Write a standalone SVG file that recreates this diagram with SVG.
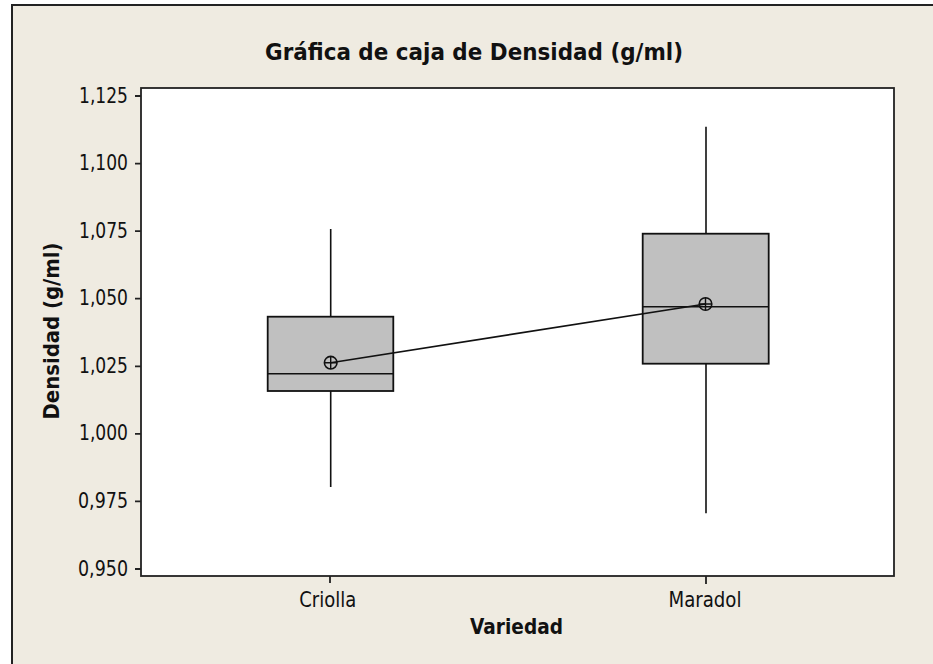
<svg xmlns="http://www.w3.org/2000/svg" width="933" height="664" viewBox="0 0 933 664">
<style>
.lbl{font-family:"DejaVu Sans","Liberation Sans",sans-serif;font-size:20.5px;fill:#111}
.b{font-weight:bold}
.ax{stroke:#222;stroke-width:1.8;fill:none}
.pl{fill:#fff;stroke:#222;stroke-width:1.8}
.box{fill:#c0c0c0;stroke:#111;stroke-width:1.8}
.ln{stroke:#111;stroke-width:1.6;fill:none}
</style>
<defs>
<g id="mean"><circle r="6.3" fill="none" stroke="#111" stroke-width="1.6"/><path d="M-6.3 0H6.3M0 -6.3V6.3" stroke="#111" stroke-width="1.4"/></g>
</defs>
<rect width="933" height="664" fill="#fff"/>
<rect id="frame" x="12" y="5" width="930" height="670" fill="#efebe1" stroke="#222" stroke-width="2"/>
<text id="title" class="lbl b" x="474" y="60" text-anchor="middle" textLength="418" lengthAdjust="spacingAndGlyphs" style="font-size:23px">Gráfica de caja de Densidad (g/ml)</text>
<rect id="plot" class="pl" x="141" y="88" width="753" height="488"/>
<g id="yaxis">
<path class="ax" d="M135 96H141M135 163.6H141M135 231.1H141M135 298.7H141M135 366.3H141M135 433.9H141M135 501.4H141M135 569H141"/>
<g class="lbl" text-anchor="end">
<text x="128" y="102.5" textLength="49" lengthAdjust="spacingAndGlyphs">1,125</text>
<text x="128" y="170.1" textLength="49" lengthAdjust="spacingAndGlyphs">1,100</text>
<text x="128" y="237.6" textLength="49" lengthAdjust="spacingAndGlyphs">1,075</text>
<text x="128" y="305.2" textLength="49" lengthAdjust="spacingAndGlyphs">1,050</text>
<text x="128" y="372.8" textLength="49" lengthAdjust="spacingAndGlyphs">1,025</text>
<text x="128" y="440.4" textLength="49" lengthAdjust="spacingAndGlyphs">1,000</text>
<text x="128" y="507.9" textLength="50" lengthAdjust="spacingAndGlyphs">0,975</text>
<text x="128" y="575.5" textLength="50" lengthAdjust="spacingAndGlyphs">0,950</text>
</g>
<text class="lbl b" transform="translate(58.5 331) rotate(-90)" text-anchor="middle" textLength="177" lengthAdjust="spacingAndGlyphs">Densidad (g/ml)</text>
</g>
<g id="xaxis">
<path class="ax" d="M330 576V583M706 576V584"/>
<text class="lbl" x="327.7" y="606.7" text-anchor="middle" textLength="57" lengthAdjust="spacingAndGlyphs">Criolla</text>
<text class="lbl" x="705" y="606.7" text-anchor="middle" textLength="73" lengthAdjust="spacingAndGlyphs">Maradol</text>
<text class="lbl b" x="516.5" y="634" text-anchor="middle" textLength="93" lengthAdjust="spacingAndGlyphs">Variedad</text>
</g>
<g id="criolla">
<path class="ln" d="M330.7 229V316.7M330.7 391V487"/>
<rect class="box" x="267.7" y="316.7" width="125.6" height="74.3"/>
<path class="ln" d="M267.7 373.7H393.3"/>
</g>
<g id="maradol">
<path class="ln" d="M706 126.7V233.7M706 363.7V513.3"/>
<rect class="box" x="642.7" y="233.7" width="126" height="130"/>
<path class="ln" d="M642.7 306.7H768.7"/>
</g>
<g id="connectors">
<path class="ln" d="M330.7 362.7L705.5 304"/>
</g>
<use href="#mean" x="330.7" y="362.7"/>
<use href="#mean" x="705.5" y="304"/>
</svg>
